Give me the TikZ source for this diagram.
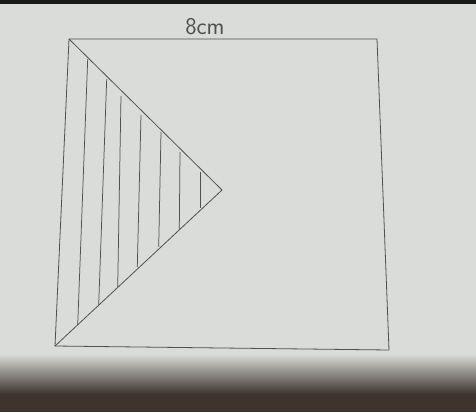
\documentclass[tikz,border=0pt]{standalone}
\usepackage{xcolor}
\usepackage{tikz}
\usetikzlibrary{calc,backgrounds}

\definecolor{paper}{HTML}{D9DCD8}
\definecolor{pencil}{HTML}{4E524F}
\definecolor{shadow}{HTML}{3E342C}

\begin{document}
\begin{tikzpicture}[
    x=1pt, y=-1pt,
    edge/.style={draw=pencil, line width=0.8pt, line join=round},
    hatch/.style={draw=pencil, line width=0.75pt},
    lbl/.style={font=\sffamily\fontsize{24}{24}\selectfont, text=pencil, inner sep=1pt}
]

% ===== PAPER =====
\fill[paper] (0,0) rectangle (476,412);
\fill[black!90] (0,0) rectangle (476,4);
\shade[top color=paper, bottom color=shadow] (0,354) rectangle (476,394);
\fill[shadow] (0,394) rectangle (476,412);
\useasboundingbox (0,0) rectangle (476,412);

% ===== SQUARE =====
\coordinate (tl) at (69,39);
\coordinate (tr) at (377,39);
\coordinate (br) at (389,350);
\coordinate (bl) at (55,346);
\coordinate (apex) at (222,190);

\draw[edge] (tl) -- (tr) -- (br) -- (bl) -- cycle;
\node[lbl] (side) at (205,27) {8cm};

% ===== TRIANGLE =====
\draw[edge] (tl) -- (apex) -- (bl);

% hatching
\foreach \xa/\ya/\xb/\yb in {87.7/59/77.7/325, 106.7/79/98.7/305, 121/96/117.7/287,
    141/115/137.3/267, 161/132/158.7/247, 180/152/179.3/229, 200.7/172/200.7/208}
  \draw[hatch] (\xa,\ya) -- (\xb,\yb);

\end{tikzpicture}
\end{document}
